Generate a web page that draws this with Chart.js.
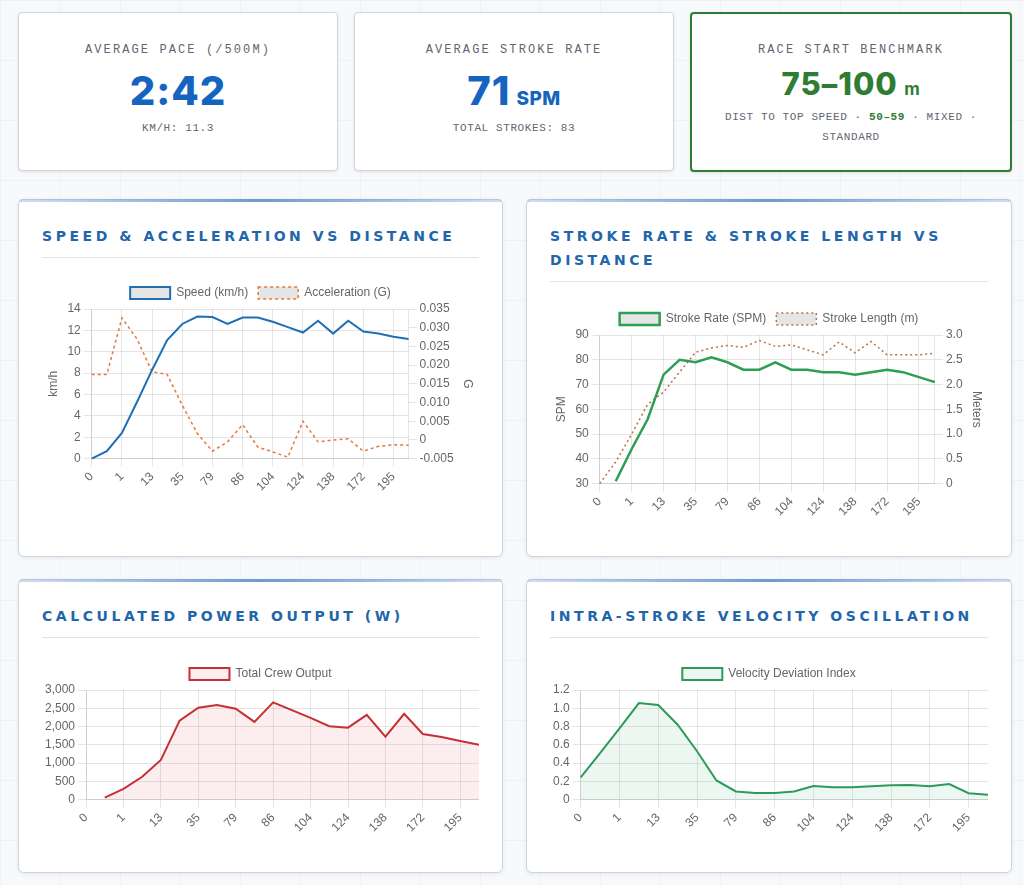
<!DOCTYPE html>
<html>
<head>
<meta charset="utf-8">
<script src="https://cdn.jsdelivr.net/npm/chart.js@4.4.1/dist/chart.umd.min.js"></script>
<style>
  html,body{margin:0;padding:0;}
  body{
    width:1024px;height:885px;overflow:hidden;
    background-color:#f8f9fb;
    background-image:linear-gradient(rgba(200,210,225,0.18) 1px, transparent 1px),
                     linear-gradient(90deg, rgba(200,210,225,0.18) 1px, transparent 1px);
    background-size:60px 60px;
    font-family:"Liberation Sans",Arial,sans-serif;
  }
  .wrap{position:relative;width:994px;margin-left:18px;padding-top:12px;}
  .kpis{display:grid;grid-template-columns:320px 320px 322px;column-gap:16px;}
  .kpi{height:159px;box-sizing:border-box;background:#fff;border:1px solid #cdd6e1;border-radius:4px;
       box-shadow:0 1px 3px rgba(0,0,0,0.10);text-align:center;padding-top:29px;}
  .kpi.green{height:160px;border:2px solid #2e7d32;padding-top:28px;}
  .klabel{font-family:"Liberation Mono",monospace;font-size:12px;line-height:16px;letter-spacing:2.1px;color:#5f6670;}
  .kbig{font-family:"Inter","DejaVu Sans",sans-serif;font-weight:800;font-size:40px;line-height:44px;color:#1565c0;margin-top:11px;letter-spacing:1px;}
  .kbig small{font-size:19px;font-weight:800;letter-spacing:0.5px;margin-left:6px;line-height:0;}
  .ksub{font-family:"Liberation Mono",monospace;font-size:11px;line-height:16px;letter-spacing:0.6px;color:#5f6670;margin-top:7px;}
  .green .kbig{color:#2e7d32;font-size:31px;line-height:36px;margin-top:8px;}
  .green .kbig small{font-size:17px;font-weight:700;margin-left:2px;}
  .green .ksub{line-height:20px;margin-top:5px;letter-spacing:0.6px;padding:0 20px;}
  .green .ksub b{color:#2e7d32;}
  .charts{display:grid;grid-template-columns:485px 486px;column-gap:23px;margin-top:27px;row-gap:22px;}
  .card{position:relative;background:#fff;border:1px solid #cbd5e1;border-radius:6px;box-sizing:border-box;
        padding:24px 23px 0 23px;box-shadow:0 1px 4px rgba(0,0,0,0.08);}
  .card::before{content:"";position:absolute;left:0;right:0;top:-1px;height:3px;border-radius:6px 6px 0 0;
        background:linear-gradient(90deg, rgba(160,190,225,0.5), #6f9bd1 50%, rgba(160,190,225,0.5));}
  .row1{height:358px;}
  .row2{height:294px;}
  .ctitle{font-family:"DejaVu Sans",sans-serif;font-weight:bold;font-size:14px;line-height:24px;letter-spacing:3.55px;color:#2166aa;
          padding-bottom:9px;border-bottom:1px solid #dfe4ea;}
  .cbox{position:relative;}
  #b1{margin-top:19px;height:220px;}
  #b2{margin-top:21px;height:219px;}
  .row2 .cbox{height:180px;margin-top:20px;}
</style>
</head>
<body>
<div class="wrap">
  <div class="kpis">
    <div class="kpi">
      <div class="klabel">AVERAGE PACE (/500M)</div>
      <div class="kbig">2:42</div>
      <div class="ksub">KM/H: 11.3</div>
    </div>
    <div class="kpi">
      <div class="klabel">AVERAGE STROKE RATE</div>
      <div class="kbig">71<small>SPM</small></div>
      <div class="ksub">TOTAL STROKES: 83</div>
    </div>
    <div class="kpi green">
      <div class="klabel">RACE START BENCHMARK</div>
      <div class="kbig">75–100<small> m</small></div>
      <div class="ksub">DIST TO TOP SPEED · <b>50–59</b> · MIXED · STANDARD</div>
    </div>
  </div>
  <div class="charts">
    <div class="card row1">
      <div class="ctitle">SPEED &amp; ACCELERATION VS DISTANCE</div>
      <div class="cbox" id="b1"><canvas id="c1"></canvas></div>
    </div>
    <div class="card row1">
      <div class="ctitle">STROKE RATE &amp; STROKE LENGTH VS DISTANCE</div>
      <div class="cbox" id="b2"><canvas id="c2"></canvas></div>
    </div>
    <div class="card row2">
      <div class="ctitle">CALCULATED POWER OUTPUT (W)</div>
      <div class="cbox"><canvas id="c3"></canvas></div>
    </div>
    <div class="card row2">
      <div class="ctitle">INTRA-STROKE VELOCITY OSCILLATION</div>
      <div class="cbox"><canvas id="c4"></canvas></div>
    </div>
  </div>
</div>
<script>
const distanceLabels = ["0","0","1","6","13","24","35","57","79","82","86","95","104","114","124","131","138","155","172","184","195","206"];
const speedKmh = [0,0.7,2.4,5.3,8.3,11.1,12.6,13.3,13.25,12.6,13.2,13.2,12.8,12.3,11.8,12.9,11.7,12.9,11.9,11.7,11.4,11.2];
const accelG = [0.0175,0.0175,0.0326,0.027,0.0182,0.0175,0.0093,0.0017,-0.003,-0.0005,0.0041,-0.0019,-0.0032,-0.0046,0.005,-0.0005,0,0.0003,-0.003,-0.0017,-0.0013,-0.0014];
const strokeRate = [null,31,44,56,74,80,79,81,79,76,76,79,76,76,75,75,74,75,76,75,73,71];
const strokeLength = [0,0.44,1.0,1.6,1.85,2.25,2.65,2.74,2.79,2.75,2.89,2.77,2.8,2.7,2.6,2.86,2.64,2.87,2.6,2.6,2.6,2.63];
const powerW = [null,55,295,626,1087,2164,2514,2588,2486,2127,2661,2450,2238,2008,1970,2320,1722,2348,1796,1713,1602,1500];
const velocityDev = [0.243,0.51,0.78,1.057,1.035,0.82,0.53,0.21,0.09,0.074,0.074,0.09,0.15,0.136,0.136,0.147,0.158,0.16,0.147,0.17,0.07,0.055];

Chart.defaults.font.family = '"Liberation Sans", Arial, sans-serif';
Chart.defaults.animation = false;

function xAxis(){
  return {ticks:{autoSkip:true,maxRotation:45,minRotation:45}, grid:{color:'rgba(0,0,0,0.1)'}};
}
const baseOpts = {responsive:true,maintainAspectRatio:false,
  plugins:{legend:{position:'top'},tooltip:{enabled:false}},
  elements:{point:{radius:0},line:{tension:0}}};

new Chart(document.getElementById('c1'),{
  type:'line',
  data:{labels:distanceLabels,datasets:[
    {label:'Speed (km/h)',data:speedKmh,borderColor:'#1f6fb4',borderWidth:2,yAxisID:'y'},
    {label:'Acceleration (G)',data:accelG,borderColor:'#e07a3a',borderWidth:1.5,borderDash:[3,3],yAxisID:'y1'}
  ]},
  options:Object.assign({},baseOpts,{scales:{
    x:xAxis(),
    y:{position:'left',title:{display:true,text:'km/h'}},
    y1:{position:'right',title:{display:true,text:'G'},grid:{drawOnChartArea:false}}
  }})
});

new Chart(document.getElementById('c2'),{
  type:'line',
  data:{labels:distanceLabels,datasets:[
    {label:'Stroke Rate (SPM)',data:strokeRate,borderColor:'#2e9e55',borderWidth:2.5,yAxisID:'y'},
    {label:'Stroke Length (m)',data:strokeLength,borderColor:'#b8703f',borderWidth:1.5,borderDash:[2,3],yAxisID:'y1'}
  ]},
  options:Object.assign({},baseOpts,{scales:{
    x:xAxis(),
    y:{position:'left',title:{display:true,text:'SPM'}},
    y1:{position:'right',title:{display:true,text:'Meters'},grid:{drawOnChartArea:false}}
  }})
});

new Chart(document.getElementById('c3'),{
  type:'line',
  data:{labels:distanceLabels,datasets:[
    {label:'Total Crew Output',data:powerW,borderColor:'#c62f35',backgroundColor:'rgba(230,80,90,0.1)',borderWidth:2,fill:'origin'}
  ]},
  options:Object.assign({},baseOpts,{scales:{x:xAxis(),y:{}}})
});

new Chart(document.getElementById('c4'),{
  type:'line',
  data:{labels:distanceLabels,datasets:[
    {label:'Velocity Deviation Index',data:velocityDev,borderColor:'#2e9a5a',backgroundColor:'rgba(60,170,100,0.09)',borderWidth:2,fill:'origin'}
  ]},
  options:Object.assign({},baseOpts,{scales:{x:xAxis(),y:{}}})
});
</script>
</body>
</html>
